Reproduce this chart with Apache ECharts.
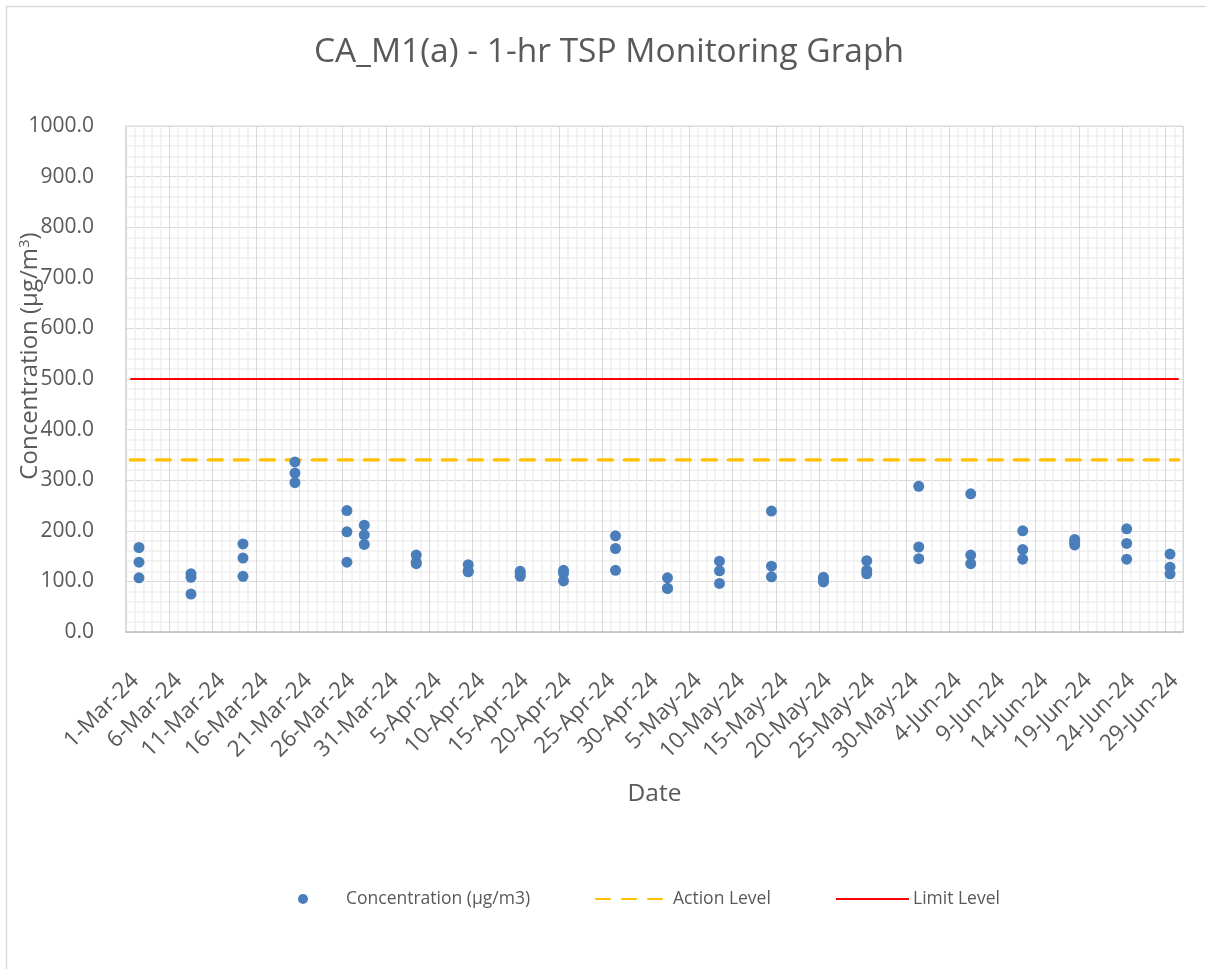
<!DOCTYPE html>
<html>
<head>
<meta charset="utf-8">
<script src="https://cdn.jsdelivr.net/npm/echarts@6/dist/echarts.min.js"></script>
<style>
html,body{margin:0;padding:0;background:#fff;}
#chart{width:1206px;height:969px;}
</style>
</head>
<body>
<div id="chart"></div>
<script>
// ---- data ----
const startDate = '2024-03-01';
const axisEndDate = '2024-07-01';
const sampleDates = ['2024-03-02','2024-03-08','2024-03-14','2024-03-20','2024-03-26','2024-03-28',
  '2024-04-03','2024-04-09','2024-04-15','2024-04-20','2024-04-26','2024-05-02','2024-05-08',
  '2024-05-14','2024-05-20','2024-05-25','2024-05-31','2024-06-06','2024-06-12','2024-06-18',
  '2024-06-24','2024-06-29'];
const reading1 = [167,115,174,336,240,211,152,133,120,122,190,107,140,239,108,141,288,273,200,183,204,154];
const reading2 = [138,108,146,314,198,192,138,121,115,116,165, 86,121,130,103,122,168,152,163,178,175,128];
const reading3 = [107, 75,110,295,138,173,135,119,110,101,122, 86, 96,109, 99,115,145,135,144,172,144,115];
const levelDates = ['2024-03-01','2024-06-30'];
const actionLevel = [340,340];
const limitLevel = [500,500];
const monthNames = ['Jan','Feb','Mar','Apr','May','Jun','Jul','Aug','Sep','Oct','Nov','Dec'];

const DAY = 86400000;
const t0 = Date.parse(startDate);
const dayIndex = s => (Date.parse(s) - t0) / DAY;
const centre = s => dayIndex(s) + 0.5; // date-axis buckets: values sit mid-day

const scatterData = [];
[reading1, reading2, reading3].forEach(arr => {
  arr.forEach((v, i) => { if (v != null) scatterData.push([centre(sampleDates[i]), v]); });
});
const actionData = levelDates.map((d, i) => [centre(d), actionLevel[i]]);
const limitData = levelDates.map((d, i) => [centre(d), limitLevel[i]]);

const fmtDate = v => {
  const d = new Date(t0 + v * DAY);
  return d.getUTCDate() + '-' + monthNames[d.getUTCMonth()] + '-' + String(d.getUTCFullYear()).slice(2);
};

const FONT = '"Open Sans", "Noto Sans", sans-serif';
const TXT = '#595959';
const legendText = {fontFamily: FONT, fontSize: 17.5, color: TXT};
const chart = echarts.init(document.getElementById('chart'), null, {renderer: 'canvas'});
chart.setOption({
  animation: false,
  backgroundColor: '#fff',
  textStyle: {fontFamily: FONT},
  graphic: [{
    type: 'rect', silent: true, z: -10,
    shape: {x: 6.5, y: 6.5, width: 1400, height: 1200},
    style: {fill: 'none', stroke: '#d9d9d9', lineWidth: 1.5}
  }],
  title: {
    text: 'CA_M1(a) - 1-hr TSP Monitoring Graph',
    left: 314, top: 35, padding: 0,
    textStyle: {fontFamily: FONT, fontSize: 33.5, fontWeight: 'normal', color: TXT}
  },
  legend: [
    {
      left: 298, top: 890, padding: 0, itemWidth: 10, itemHeight: 10,
      textStyle: Object.assign({padding: [0, 0, 0, 33]}, legendText),
      data: [{name: 'Concentration (µg/m3)', icon: 'circle'}]
    },
    {
      left: 595, top: 890, padding: 0, itemWidth: 73, itemHeight: 18,
      textStyle: Object.assign({padding: [0, 0, 0, -1]}, legendText),
      data: [{name: 'Action Level', itemStyle: {opacity: 0}}]
    },
    {
      left: 835, top: 890, padding: 0, itemWidth: 73, itemHeight: 18,
      textStyle: Object.assign({padding: [0, 0, 0, -1]}, legendText),
      data: [{name: 'Limit Level', itemStyle: {opacity: 0}}]
    }
  ],
  grid: {left: 126, right: 23, top: 126, bottom: 337, show: true, borderColor: '#d9d9d9', borderWidth: 1,
    containLabel: false, outerBoundsMode: 'none'},
  xAxis: {
    type: 'value', min: 0, max: dayIndex(axisEndDate), interval: 5,
    name: 'Date', nameLocation: 'middle', nameGap: 150, nameMoveOverlap: false,
    nameTextStyle: {fontFamily: FONT, fontSize: 24.5, color: TXT},
    axisLine: {show: true, lineStyle: {color: '#bfbfbf', width: 1.5}},
    axisTick: {show: false},
    axisLabel: {rotate: 45, margin: 38, align: 'right', verticalAlign: 'top', padding: [0, -1.5, 0, 0],
      fontFamily: FONT, fontSize: 22.5, color: TXT, formatter: fmtDate, showMaxLabel: false, hideOverlap: false},
    splitLine: {show: true, lineStyle: {color: '#d9d9d9', width: 1}},
    minorTick: {show: false, splitNumber: 5},
    minorSplitLine: {show: true, lineStyle: {color: '#f0f0f0', width: 1.5}}
  },
  yAxis: {
    type: 'value', min: 0, max: 1000, interval: 100,
    name: 'Concentration (µg/m{sup|3})', nameLocation: 'middle', nameGap: 82, nameRotate: 90, nameMoveOverlap: false,
    nameTextStyle: {fontFamily: FONT, fontSize: 24, color: TXT, padding: [0, 0, 0, 46],
      rich: {sup: {fontFamily: FONT, fontSize: 15, color: TXT, padding: [0, 0, 12, 0]}}},
    axisLine: {show: true, lineStyle: {color: '#d9d9d9', width: 1.5}},
    axisTick: {show: false},
    axisLabel: {margin: 32, fontFamily: FONT, fontSize: 21, color: TXT, formatter: v => v.toFixed(1)},
    splitLine: {show: true, lineStyle: {color: '#d9d9d9', width: 1}},
    minorTick: {show: false, splitNumber: 5},
    minorSplitLine: {show: true, lineStyle: {color: '#f0f0f0', width: 1.5}}
  },
  series: [
    {
      name: 'Concentration (µg/m3)', type: 'scatter', data: scatterData,
      symbol: 'circle', symbolSize: 11, z: 5,
      itemStyle: {color: '#4a7ebb', opacity: 1}
    },
    {
      name: 'Action Level', type: 'line', data: actionData, symbol: 'none', z: 3,
      lineStyle: {color: '#ffc000', width: 3.3, type: [14, 12], cap: 'round'},
      itemStyle: {color: '#ffc000'}
    },
    {
      name: 'Limit Level', type: 'line', data: limitData, symbol: 'none', z: 4,
      lineStyle: {color: '#ff0000', width: 2},
      itemStyle: {color: '#ff0000'}
    }
  ]
});
</script>
</body>
</html>
